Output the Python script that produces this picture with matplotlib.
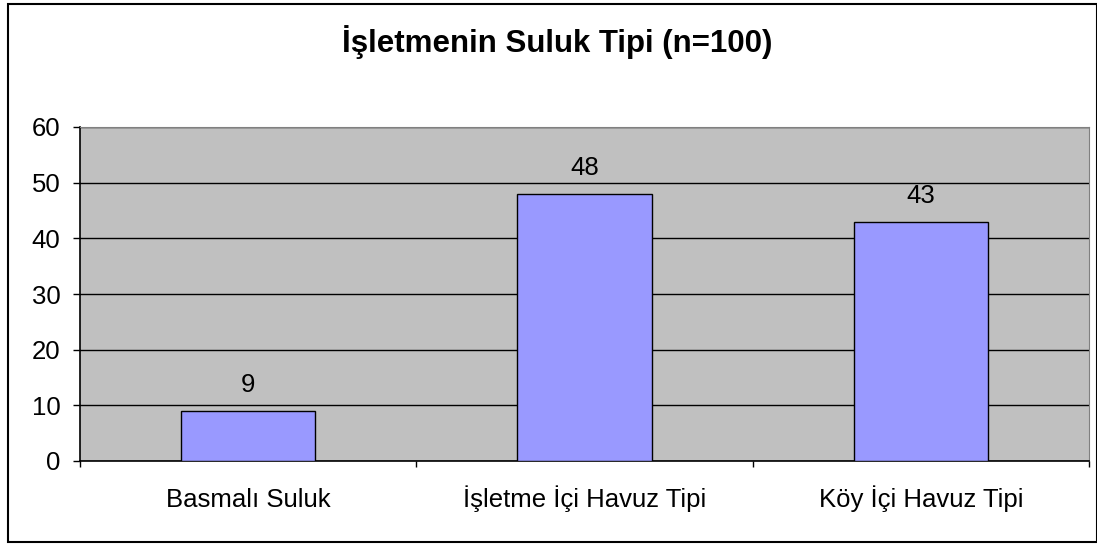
import matplotlib.pyplot as plt
from matplotlib.patches import Rectangle
from matplotlib.transforms import blended_transform_factory

categories = ["Basmalı Suluk", "İşletme İçi Havuz Tipi", "Köy İçi Havuz Tipi"]
values = [9, 48, 43]
title = "İşletmenin Suluk Tipi (n=100)"

plt.rcParams["font.family"] = ["Liberation Sans", "DejaVu Sans"]

fig = plt.figure(figsize=(10.97, 5.46), dpi=100)
W, H = 1097, 546

# outer chart border
fig.patches.append(Rectangle((8 / W, 4 / H), (W - 8) / W, (542 - 4) / H,
                             transform=fig.transFigure, fill=False,
                             edgecolor="black", linewidth=1.5))

ax = fig.add_axes([80 / W, 1 - 461 / H, (1089 - 80) / W, (461 - 127) / H])
ax.set_facecolor("#C0C0C0")

x = list(range(len(categories)))
ax.bar(x, values, width=0.4, color="#9999FF", edgecolor="black", linewidth=1, zorder=3)
for xi, v in zip(x, values):
    ax.annotate(str(v), (xi, v), xytext=(0, 13.5), textcoords="offset points",
                ha="center", va="baseline", fontsize=18.5)

ax.set_xlim(-0.5, len(categories) - 0.5)
ax.set_ylim(0, 60)
ax.set_yticks(range(0, 61, 10))
ax.yaxis.grid(True, color="black", linewidth=1, zorder=1)
ax.set_axisbelow(True)

# category boundaries as ticks, names as baseline-aligned text
ax.set_xticks([i - 0.5 for i in range(len(categories) + 1)])
ax.set_xticklabels([])
ax.tick_params(axis="x", length=4.5, width=1, direction="out")
trans = blended_transform_factory(ax.transData, fig.transFigure)
for xi, name in zip(x, categories):
    ax.text(xi, 1 - 507 / H, name, transform=trans, ha="center", va="baseline",
            fontsize=18.5)

ax.tick_params(axis="y", length=5, width=1, direction="out", labelsize=18.5, pad=9)

for s in ("top", "right"):
    ax.spines[s].set_color("#808080")
for s in ("left", "bottom"):
    ax.spines[s].set_color("black")
    ax.spines[s].set_linewidth(1.2)

fig.text(557 / W, 1 - 52 / H, title, ha="center", va="baseline", fontsize=22.5,
         fontweight="bold")

fig.savefig("out.png", dpi=100)
